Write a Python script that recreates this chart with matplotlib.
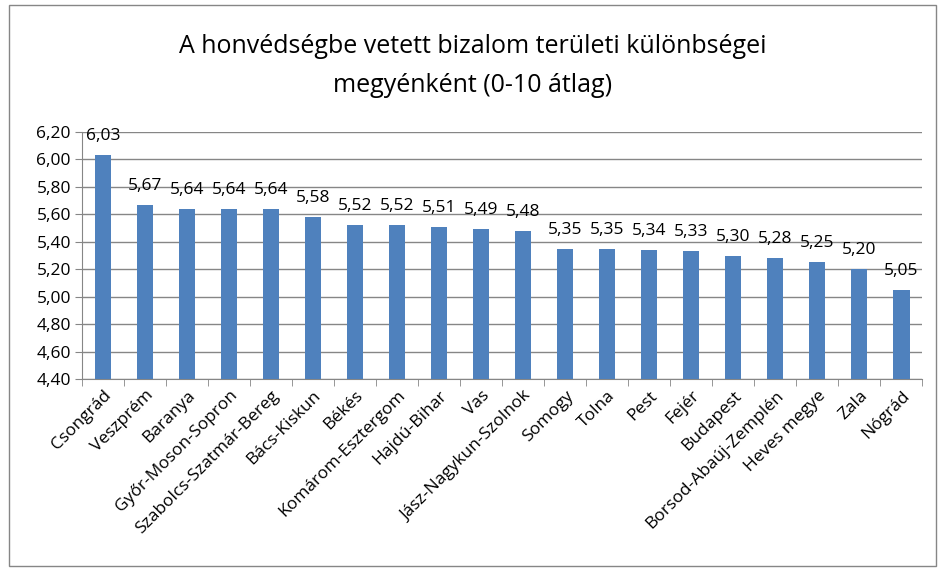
import matplotlib.pyplot as plt
from matplotlib.patches import Rectangle
from matplotlib.ticker import FuncFormatter, MultipleLocator
import numpy as np

megyek = ['Csongrád', 'Veszprém', 'Baranya', 'Győr-Moson-Sopron', 'Szabolcs-Szatmár-Bereg',
          'Bács-Kiskun', 'Békés', 'Komárom-Esztergom', 'Hajdú-Bihar', 'Vas',
          'Jász-Nagykun-Szolnok', 'Somogy', 'Tolna', 'Pest', 'Fejér', 'Budapest',
          'Borsod-Abaúj-Zemplén', 'Heves megye', 'Zala', 'Nógrád']
atlag = [6.03, 5.67, 5.64, 5.64, 5.64, 5.58, 5.52, 5.52, 5.51, 5.49,
         5.48, 5.35, 5.35, 5.34, 5.33, 5.30, 5.28, 5.25, 5.20, 5.05]

plt.rcParams['font.family'] = ['Open Sans', 'DejaVu Sans']

fig = plt.figure(figsize=(9.45, 5.71), dpi=100)
ax = fig.add_axes([0.0868, 0.336, 0.8892, 0.433])

x = np.arange(len(megyek))
bars = ax.bar(x, atlag, width=0.39, color='#4F81BD', zorder=3)

for xi, v in zip(x, atlag):
    ax.text(xi, v + 0.08, f'{v:.2f}'.replace('.', ','), ha='center', va='bottom',
            fontsize=12.5, zorder=4)

ax.set_ylim(4.40, 6.20)
ax.set_xlim(-0.5, len(megyek) - 0.5)
ax.yaxis.set_major_locator(MultipleLocator(0.2))
ax.yaxis.set_major_formatter(FuncFormatter(lambda v, p: f'{v:.2f}'.replace('.', ',')))
ax.grid(axis='y', color='#868686', linewidth=1, zorder=0)

ax.set_xticks(x)
ax.set_xticklabels(megyek, rotation=45, ha='right', rotation_mode='anchor', fontsize=12.5)
ax.tick_params(axis='x', length=0, pad=6)
ax.set_xticks(np.arange(-0.5, len(megyek)), minor=True)
ax.tick_params(axis='x', which='minor', length=5, color='#868686')
ax.tick_params(axis='y', length=5, color='#868686', labelsize=12.5, pad=3)

for s in ['top', 'right']:
    ax.spines[s].set_visible(False)
for s in ['left', 'bottom']:
    ax.spines[s].set_color('#868686')

fig.text(0.5, 0.918, 'A honvédségbe vetett bizalom területi különbségei', ha='center',
         va='center', fontsize=18)
fig.text(0.5, 0.851, 'megyénként (0-10 átlag)', ha='center', va='center', fontsize=18)

fig.patches.append(Rectangle((0.009, 0.008), 0.982, 0.984, transform=fig.transFigure,
                             fill=False, edgecolor='#868686', linewidth=1))

fig.savefig('out.png', dpi=100)
